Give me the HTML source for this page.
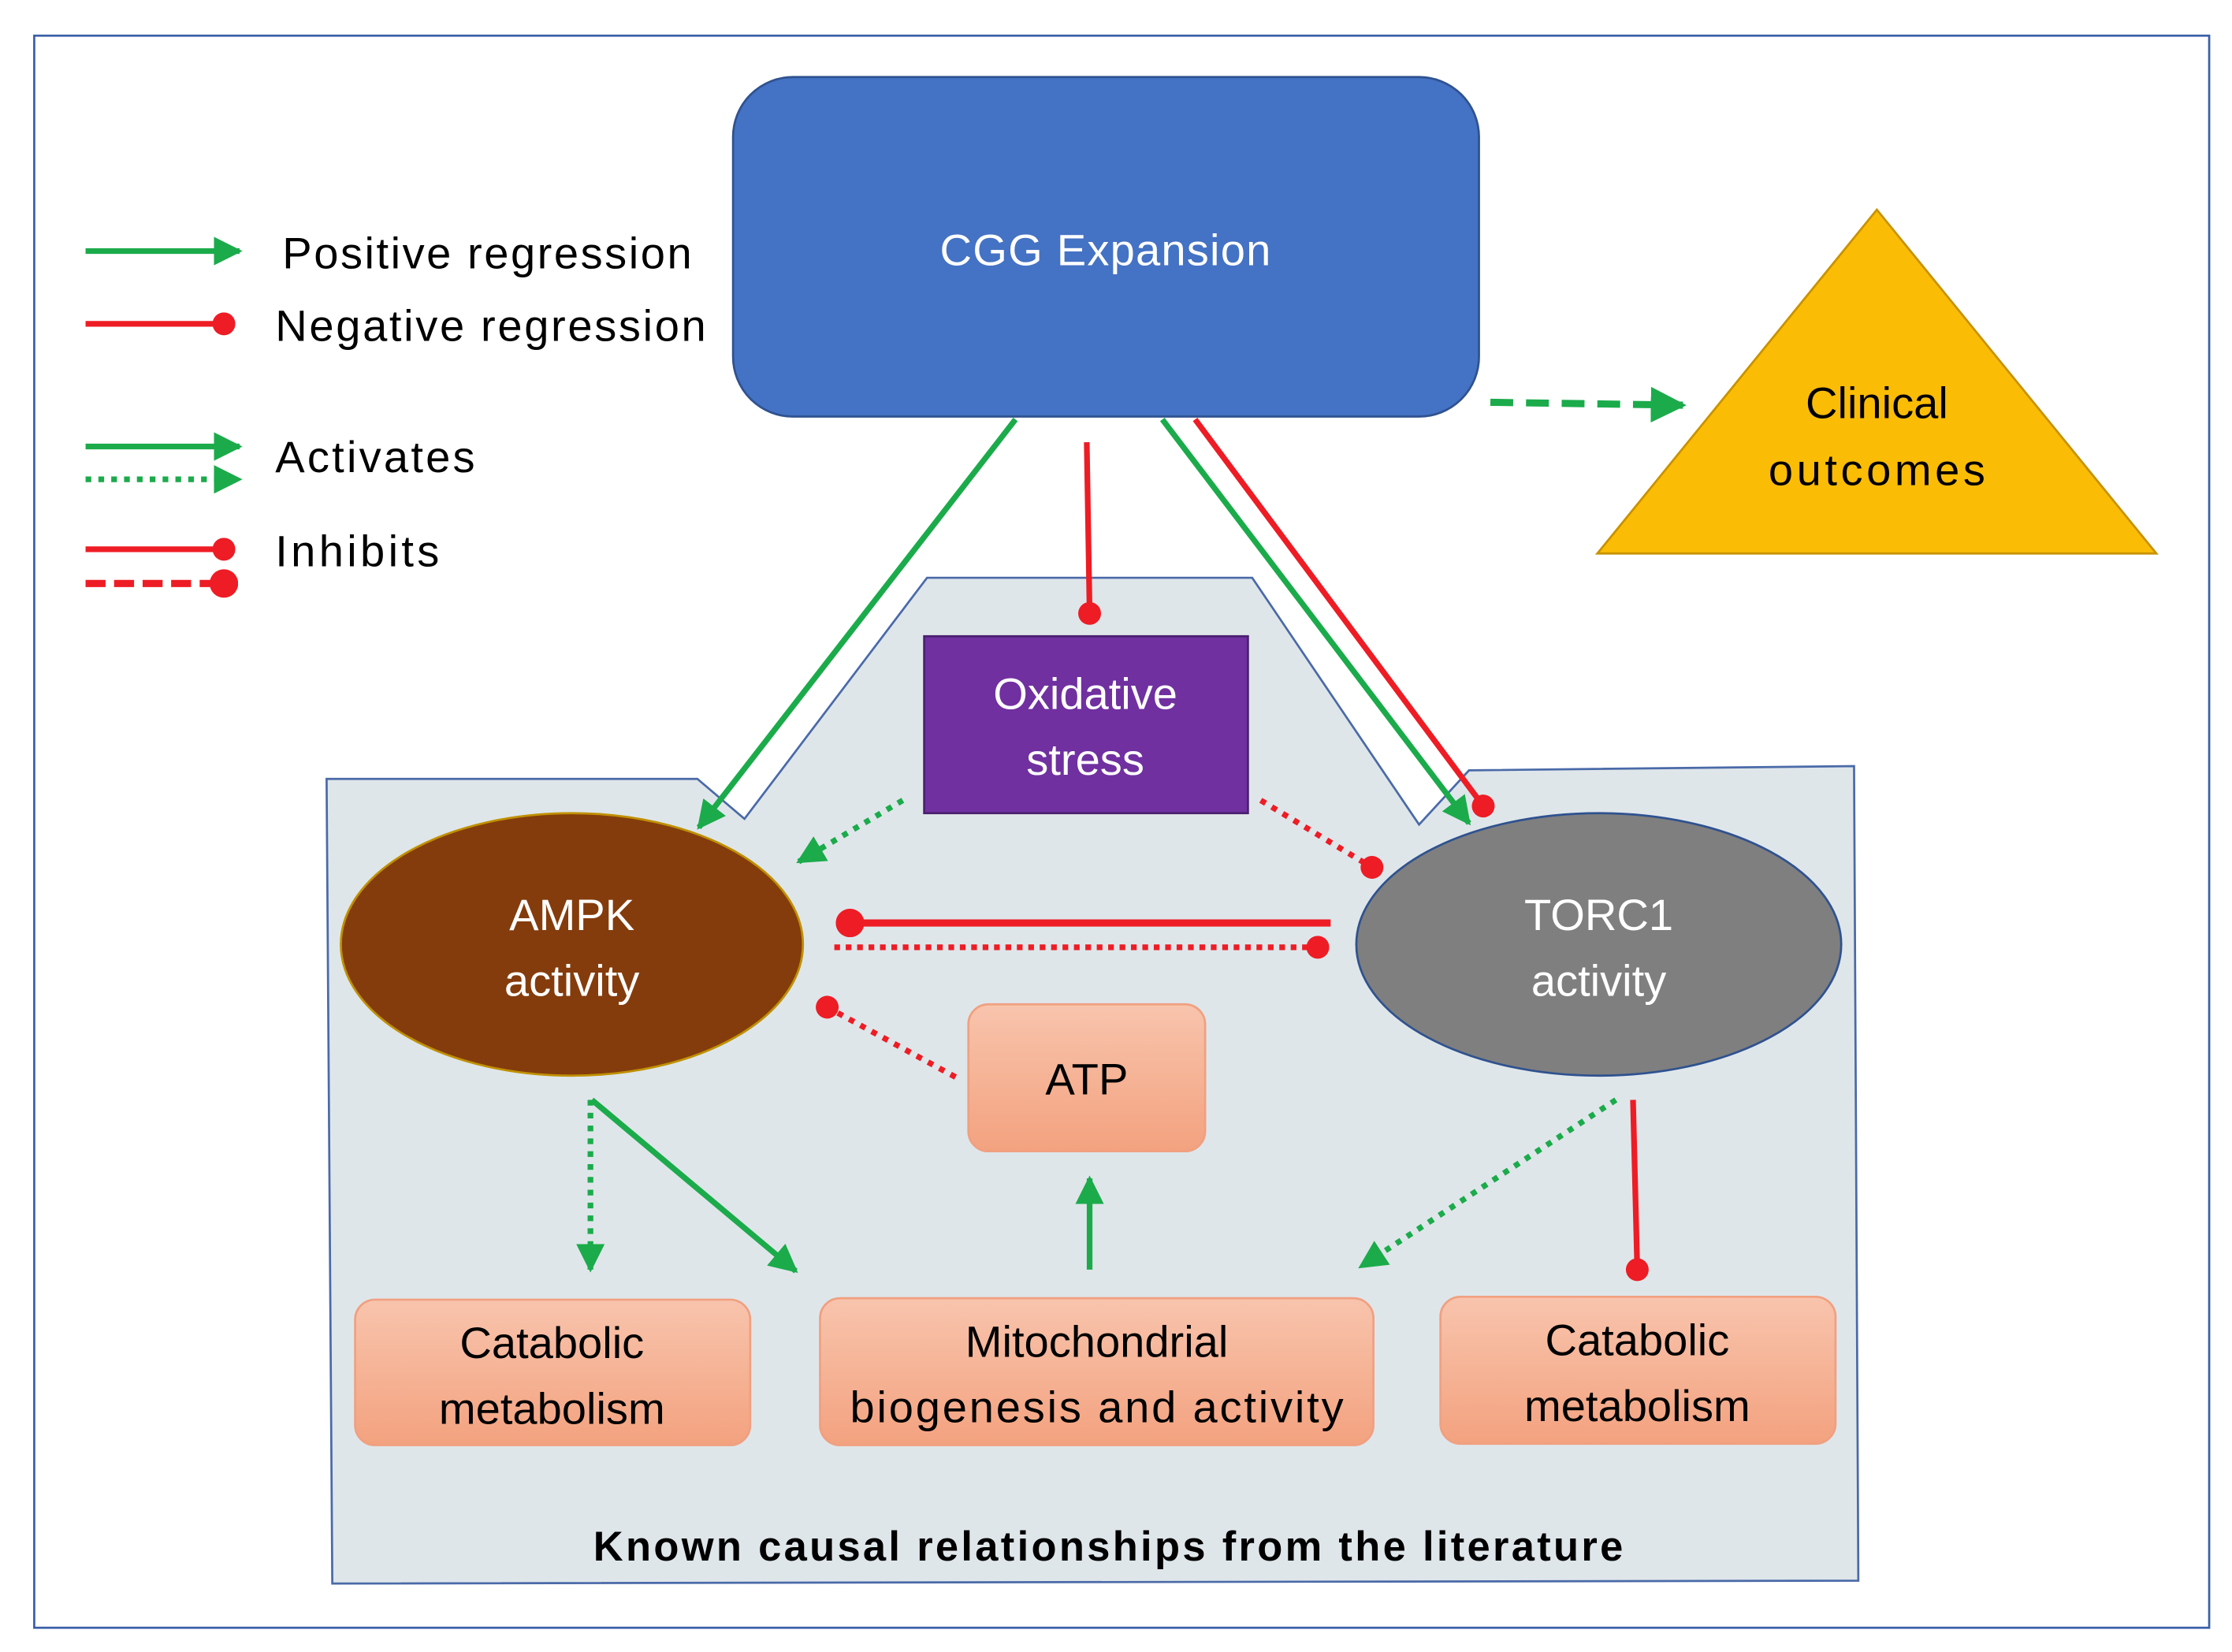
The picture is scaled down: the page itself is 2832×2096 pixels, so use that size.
<!DOCTYPE html>
<html><head><meta charset="utf-8"><style>
html,body{margin:0;padding:0;background:#fff;}
svg{display:block;}
text{font-family:"Liberation Sans",sans-serif;}
</style></head><body>
<svg width="2832" height="2096" viewBox="0 0 1565 1158" preserveAspectRatio="none" xmlns="http://www.w3.org/2000/svg">
<defs>
<linearGradient id="og" x1="0" y1="0" x2="0" y2="1"><stop offset="0" stop-color="#f8c4ad"/><stop offset="1" stop-color="#f3a27f"/></linearGradient>
<marker id="ga" viewBox="0 0 10 10" refX="9" refY="5" markerWidth="5" markerHeight="5" orient="auto" markerUnits="strokeWidth"><path d="M0,0L10,5L0,10z" fill="#1bab4b"/></marker>
<marker id="rd" viewBox="0 0 10 10" refX="5" refY="5" markerWidth="4" markerHeight="4" orient="auto" markerUnits="strokeWidth"><circle cx="5" cy="5" r="5" fill="#ee1c24"/></marker>
</defs>
<rect x="24" y="25" width="1525" height="1116" fill="#fff" stroke="#3a5fa8" stroke-width="1.5"/>
<path d="M229,546 L489,546 L522,574 L650,405 L878,405 L995,578 L1030,540 L1300,537 L1303,1108 L233,1110 Z" fill="#dfe6ea" stroke="#4a6aa8" stroke-width="1.5"/>
<rect x="514" y="54" width="523" height="238" rx="42" fill="#4472c4" stroke="#2f528f" stroke-width="1.5"/>
<text x="775" y="186" font-size="31" fill="#fff" text-anchor="middle" textLength="232">CGG Expansion</text>
<path d="M1316,147 L1512,388 L1120,388 Z" fill="#fbbc05" stroke="#c79200" stroke-width="1.5"/>
<text x="1316" y="293" font-size="31" text-anchor="middle">Clinical</text>
<text x="1316" y="340" font-size="31" text-anchor="middle" textLength="152">outcomes</text>
<line x1="1045" y1="282" x2="1180" y2="284" stroke="#1bab4b" stroke-width="5" stroke-dasharray="16,9" marker-end="url(#ga)"/>
<line x1="60" y1="176" x2="168" y2="176" stroke="#1bab4b" stroke-width="4" marker-end="url(#ga)"/>
<text x="198" y="188" font-size="31" textLength="287">Positive regression</text>
<line x1="60" y1="227" x2="157" y2="227" stroke="#ee1c24" stroke-width="4" marker-end="url(#rd)"/>
<text x="193" y="239" font-size="31" textLength="302">Negative regression</text>
<line x1="60" y1="313" x2="168" y2="313" stroke="#1bab4b" stroke-width="4" marker-end="url(#ga)"/>
<line x1="60" y1="336" x2="168" y2="336" stroke="#1bab4b" stroke-width="4" stroke-dasharray="4,5" marker-end="url(#ga)"/>
<text x="193" y="331" font-size="31" textLength="140">Activates</text>
<line x1="60" y1="385" x2="157" y2="385" stroke="#ee1c24" stroke-width="4" marker-end="url(#rd)"/>
<line x1="60" y1="409" x2="157" y2="409" stroke="#ee1c24" stroke-width="5" stroke-dasharray="14,6" marker-end="url(#rd)"/>
<text x="193" y="397" font-size="31" textLength="115">Inhibits</text>
<line x1="712" y1="294" x2="490" y2="580" stroke="#1bab4b" stroke-width="4" marker-end="url(#ga)"/>
<line x1="762" y1="310" x2="764" y2="430" stroke="#ee1c24" stroke-width="4" marker-end="url(#rd)"/>
<line x1="815" y1="294" x2="1030" y2="577" stroke="#1bab4b" stroke-width="4" marker-end="url(#ga)"/>
<line x1="838" y1="294" x2="1040" y2="565" stroke="#ee1c24" stroke-width="4" marker-end="url(#rd)"/>
<rect x="648" y="446" width="227" height="124" fill="#7030a0" stroke="#4a2070" stroke-width="1.5"/>
<text x="761" y="497" font-size="31" fill="#fff" text-anchor="middle">Oxidative</text>
<text x="761" y="543" font-size="31" fill="#fff" text-anchor="middle">stress</text>
<line x1="633" y1="561" x2="560" y2="604" stroke="#1bab4b" stroke-width="4" stroke-dasharray="4,5" marker-end="url(#ga)"/>
<line x1="884" y1="561" x2="962" y2="608" stroke="#ee1c24" stroke-width="4" stroke-dasharray="4,5" marker-end="url(#rd)"/>
<ellipse cx="401" cy="662" rx="162" ry="92" fill="#843c0c" stroke="#c09000" stroke-width="1.5"/>
<text x="401" y="652" font-size="31" fill="#fff" text-anchor="middle">AMPK</text>
<text x="401" y="698" font-size="31" fill="#fff" text-anchor="middle">activity</text>
<ellipse cx="1121" cy="662" rx="170" ry="92" fill="#7f7f7f" stroke="#2f528f" stroke-width="1.5"/>
<text x="1121" y="652" font-size="31" fill="#fff" text-anchor="middle">TORC1</text>
<text x="1121" y="698" font-size="31" fill="#fff" text-anchor="middle">activity</text>
<line x1="933" y1="647" x2="596" y2="647" stroke="#ee1c24" stroke-width="5" marker-end="url(#rd)"/>
<line x1="585" y1="664" x2="924" y2="664" stroke="#ee1c24" stroke-width="4" stroke-dasharray="4,4" marker-end="url(#rd)"/>
<rect x="679" y="704" width="166" height="103" rx="14" fill="url(#og)" stroke="#f0a080" stroke-width="1.5"/>
<text x="762" y="767" font-size="31" text-anchor="middle">ATP</text>
<line x1="670" y1="755" x2="580" y2="706" stroke="#ee1c24" stroke-width="4" stroke-dasharray="4,5" marker-end="url(#rd)"/>
<line x1="764" y1="890" x2="764" y2="826" stroke="#1bab4b" stroke-width="4" marker-end="url(#ga)"/>
<line x1="414" y1="771" x2="414" y2="890" stroke="#1bab4b" stroke-width="4" stroke-dasharray="4,5" marker-end="url(#ga)"/>
<line x1="415" y1="771" x2="558" y2="891" stroke="#1bab4b" stroke-width="4" marker-end="url(#ga)"/>
<line x1="1133" y1="771" x2="954" y2="888" stroke="#1bab4b" stroke-width="4" stroke-dasharray="4,5" marker-end="url(#ga)"/>
<line x1="1145" y1="771" x2="1148" y2="890" stroke="#ee1c24" stroke-width="4" marker-end="url(#rd)"/>
<rect x="249" y="911" width="277" height="102" rx="14" fill="url(#og)" stroke="#f0a080" stroke-width="1.5"/>
<text x="387" y="952" font-size="31" text-anchor="middle">Catabolic</text>
<text x="387" y="998" font-size="31" text-anchor="middle">metabolism</text>
<rect x="575" y="910" width="388" height="103" rx="14" fill="url(#og)" stroke="#f0a080" stroke-width="1.5"/>
<text x="769" y="951" font-size="31" text-anchor="middle">Mitochondrial</text>
<text x="769" y="997" font-size="31" text-anchor="middle" textLength="346">biogenesis and activity</text>
<rect x="1010" y="909" width="277" height="103" rx="14" fill="url(#og)" stroke="#f0a080" stroke-width="1.5"/>
<text x="1148" y="950" font-size="31" text-anchor="middle">Catabolic</text>
<text x="1148" y="996" font-size="31" text-anchor="middle">metabolism</text>
<text x="777" y="1094" font-size="29" font-weight="bold" text-anchor="middle" textLength="722">Known causal relationships from the literature</text>
</svg>
</body></html>
